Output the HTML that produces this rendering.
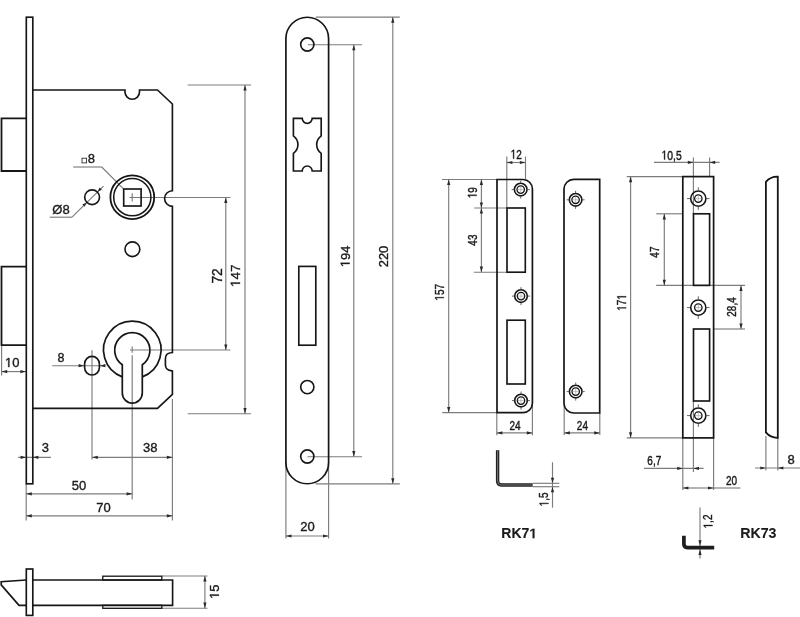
<!DOCTYPE html>
<html><head><meta charset="utf-8"><style>
html,body{margin:0;padding:0;background:#fff;}
svg{display:block;will-change:transform;}
text{font-family:"Liberation Sans",sans-serif;}
</style></head><body>
<svg width="800" height="617" viewBox="0 0 800 617">
<rect width="800" height="617" fill="#fff"/>
<line x1="132.2" y1="193.2" x2="132.2" y2="201.6" stroke="#7c7c7c" stroke-width="1.15"/>
<line x1="129.6" y1="197.5" x2="230.4" y2="197.5" stroke="#7c7c7c" stroke-width="1.15"/>
<line x1="103.5" y1="186.2" x2="72" y2="217.2" stroke="#7c7c7c" stroke-width="1.15"/>
<line x1="72" y1="217.2" x2="49.7" y2="217.2" stroke="#7c7c7c" stroke-width="1.15"/>
<line x1="73.2" y1="167" x2="101.7" y2="167" stroke="#7c7c7c" stroke-width="1.15"/>
<line x1="101.7" y1="167" x2="123.5" y2="188.8" stroke="#7c7c7c" stroke-width="1.15"/>
<line x1="132.2" y1="346.5" x2="132.2" y2="352.8" stroke="#7c7c7c" stroke-width="1.15"/>
<line x1="132.2" y1="355.2" x2="132.2" y2="499.5" stroke="#7c7c7c" stroke-width="1.15"/>
<line x1="130" y1="350" x2="230.4" y2="350" stroke="#7c7c7c" stroke-width="1.15"/>
<line x1="92" y1="350.3" x2="92" y2="459.5" stroke="#7c7c7c" stroke-width="1.15"/>
<line x1="52.2" y1="365.7" x2="105.6" y2="365.7" stroke="#7c7c7c" stroke-width="1.15"/>
<line x1="172.4" y1="399" x2="172.4" y2="520.4" stroke="#7c7c7c" stroke-width="1.15"/>
<line x1="187.7" y1="85" x2="251" y2="85" stroke="#7c7c7c" stroke-width="1.15"/>
<line x1="187.7" y1="413.7" x2="251" y2="413.7" stroke="#7c7c7c" stroke-width="1.15"/>
<line x1="225.8" y1="197.5" x2="225.8" y2="350" stroke="#7c7c7c" stroke-width="1.15"/>
<line x1="245" y1="85" x2="245" y2="413.7" stroke="#7c7c7c" stroke-width="1.15"/>
<line x1="1.6" y1="344.7" x2="1.6" y2="375.5" stroke="#7c7c7c" stroke-width="1.15"/>
<line x1="1.6" y1="371.6" x2="26" y2="371.6" stroke="#7c7c7c" stroke-width="1.15"/>
<line x1="18.2" y1="457.3" x2="50.9" y2="457.3" stroke="#7c7c7c" stroke-width="1.15"/>
<line x1="92.2" y1="457.3" x2="172.4" y2="457.3" stroke="#7c7c7c" stroke-width="1.15"/>
<line x1="26.2" y1="493.8" x2="132.2" y2="493.8" stroke="#7c7c7c" stroke-width="1.15"/>
<line x1="26.2" y1="515.8" x2="172.4" y2="515.8" stroke="#7c7c7c" stroke-width="1.15"/>
<line x1="26.2" y1="484" x2="26.2" y2="520.4" stroke="#7c7c7c" stroke-width="1.15"/>
<line x1="161.8" y1="576" x2="207.4" y2="576" stroke="#7c7c7c" stroke-width="1.15"/>
<line x1="161.8" y1="608.2" x2="207.4" y2="608.2" stroke="#7c7c7c" stroke-width="1.15"/>
<line x1="204.9" y1="576" x2="204.9" y2="608.2" stroke="#7c7c7c" stroke-width="1.15"/>
<line x1="315.8" y1="17.1" x2="399.8" y2="17.1" stroke="#7c7c7c" stroke-width="1.15"/>
<line x1="308" y1="44.7" x2="362.1" y2="44.7" stroke="#7c7c7c" stroke-width="1.15"/>
<line x1="307.5" y1="456.7" x2="362.1" y2="456.7" stroke="#7c7c7c" stroke-width="1.15"/>
<line x1="315.6" y1="483.8" x2="399.8" y2="483.8" stroke="#7c7c7c" stroke-width="1.15"/>
<line x1="353.8" y1="44.7" x2="353.8" y2="456.7" stroke="#7c7c7c" stroke-width="1.15"/>
<line x1="392.8" y1="17.1" x2="392.8" y2="483.8" stroke="#7c7c7c" stroke-width="1.15"/>
<line x1="285.9" y1="462" x2="285.9" y2="538.5" stroke="#7c7c7c" stroke-width="1.15"/>
<line x1="328.6" y1="462" x2="328.6" y2="538.5" stroke="#7c7c7c" stroke-width="1.15"/>
<line x1="285.9" y1="536" x2="328.6" y2="536" stroke="#7c7c7c" stroke-width="1.15"/>
<line x1="506.8" y1="156.5" x2="506.8" y2="208" stroke="#7c7c7c" stroke-width="1.15"/>
<line x1="525.5" y1="156.5" x2="525.5" y2="179.5" stroke="#7c7c7c" stroke-width="1.15"/>
<line x1="506.8" y1="162.5" x2="525.5" y2="162.5" stroke="#7c7c7c" stroke-width="1.15"/>
<line x1="481.4" y1="179.5" x2="481.4" y2="208" stroke="#7c7c7c" stroke-width="1.15"/>
<line x1="481.4" y1="208" x2="481.4" y2="272.2" stroke="#7c7c7c" stroke-width="1.15"/>
<line x1="448.7" y1="179.5" x2="448.7" y2="412.6" stroke="#7c7c7c" stroke-width="1.15"/>
<line x1="442" y1="179.5" x2="497" y2="179.5" stroke="#7c7c7c" stroke-width="1.15"/>
<line x1="474.2" y1="208" x2="507" y2="208" stroke="#7c7c7c" stroke-width="1.15"/>
<line x1="473.8" y1="272.2" x2="507" y2="272.2" stroke="#7c7c7c" stroke-width="1.15"/>
<line x1="442.3" y1="412.6" x2="497" y2="412.6" stroke="#7c7c7c" stroke-width="1.15"/>
<line x1="496.8" y1="412.4" x2="496.8" y2="435.2" stroke="#7c7c7c" stroke-width="1.15"/>
<line x1="532.4" y1="404" x2="532.4" y2="435.2" stroke="#7c7c7c" stroke-width="1.15"/>
<line x1="496.8" y1="432.9" x2="532.4" y2="432.9" stroke="#7c7c7c" stroke-width="1.15"/>
<line x1="532.6" y1="483.3" x2="559.3" y2="483.3" stroke="#7c7c7c" stroke-width="1.15"/>
<line x1="532.6" y1="486.7" x2="559.3" y2="486.7" stroke="#7c7c7c" stroke-width="1.15"/>
<line x1="552.5" y1="462.3" x2="552.5" y2="507.7" stroke="#7c7c7c" stroke-width="1.15"/>
<line x1="564.2" y1="404" x2="564.2" y2="435" stroke="#7c7c7c" stroke-width="1.15"/>
<line x1="599.8" y1="413" x2="599.8" y2="435" stroke="#7c7c7c" stroke-width="1.15"/>
<line x1="564.2" y1="432.9" x2="599.8" y2="432.9" stroke="#7c7c7c" stroke-width="1.15"/>
<line x1="693.4" y1="157.6" x2="693.4" y2="213.8" stroke="#7c7c7c" stroke-width="1.15"/>
<line x1="709.6" y1="157.6" x2="709.6" y2="176.6" stroke="#7c7c7c" stroke-width="1.15"/>
<line x1="654" y1="162.4" x2="719.6" y2="162.4" stroke="#7c7c7c" stroke-width="1.15"/>
<line x1="656.2" y1="213.8" x2="682.8" y2="213.8" stroke="#7c7c7c" stroke-width="1.15"/>
<line x1="656.2" y1="285.4" x2="745" y2="285.4" stroke="#7c7c7c" stroke-width="1.15"/>
<line x1="713.6" y1="329" x2="745" y2="329" stroke="#7c7c7c" stroke-width="1.15"/>
<line x1="664.3" y1="213.8" x2="664.3" y2="285.4" stroke="#7c7c7c" stroke-width="1.15"/>
<line x1="741" y1="285.4" x2="741" y2="329" stroke="#7c7c7c" stroke-width="1.15"/>
<line x1="626.7" y1="176.6" x2="682.8" y2="176.6" stroke="#7c7c7c" stroke-width="1.15"/>
<line x1="626.8" y1="437.9" x2="682.8" y2="437.9" stroke="#7c7c7c" stroke-width="1.15"/>
<line x1="630.6" y1="176.6" x2="630.6" y2="437.9" stroke="#7c7c7c" stroke-width="1.15"/>
<line x1="682.8" y1="437.6" x2="682.8" y2="490" stroke="#7c7c7c" stroke-width="1.15"/>
<line x1="693.4" y1="401" x2="693.4" y2="472" stroke="#7c7c7c" stroke-width="1.15"/>
<line x1="644" y1="468.4" x2="703.6" y2="468.4" stroke="#7c7c7c" stroke-width="1.15"/>
<line x1="713.6" y1="437.6" x2="713.6" y2="490" stroke="#7c7c7c" stroke-width="1.15"/>
<line x1="682.8" y1="488" x2="713.6" y2="488" stroke="#7c7c7c" stroke-width="1.15"/>
<line x1="713.6" y1="488" x2="740.4" y2="488" stroke="#7c7c7c" stroke-width="1.15"/>
<line x1="765.9" y1="436" x2="765.9" y2="470.6" stroke="#7c7c7c" stroke-width="1.15"/>
<line x1="777.8" y1="437.8" x2="777.8" y2="470.6" stroke="#7c7c7c" stroke-width="1.15"/>
<line x1="755" y1="468" x2="800" y2="468" stroke="#7c7c7c" stroke-width="1.15"/>
<line x1="700" y1="507.6" x2="700" y2="558.4" stroke="#7c7c7c" stroke-width="1.15"/>
<rect x="26.3" y="17.2" width="6.5" height="466.6" fill="none" stroke="#161616" stroke-width="1.65"/>
<path d="M32.8 90 L125 90 L125 92 A7.25 7.25 0 0 0 139.5 92 L139.5 90 L157.5 90 L172.4 104 L172.4 190.7 A7.8 7.8 0 0 0 172.4 206.3 L172.4 352.5 L170.8 352.8 Q165.4 353.4 165.4 359 L165.4 364.2 Q165.4 370.2 170.8 370.6 L172.4 371 L172.4 394.3 L157.5 408.3 L32.8 408.3" fill="none" stroke="#161616" stroke-width="1.65"/>
<path d="M26.3 118.4 L1.5 118.4 L1.5 171 L26.3 171" fill="none" stroke="#161616" stroke-width="1.8"/>
<path d="M26.3 266.7 L1.5 266.7 L1.5 345.2 L26.3 345.2" fill="none" stroke="#161616" stroke-width="1.8"/>
<circle cx="132.3" cy="197.2" r="21.9" fill="none" stroke="#161616" stroke-width="1.8"/>
<circle cx="132.3" cy="197.2" r="18.6" fill="none" stroke="#161616" stroke-width="1.55"/>
<rect x="123.7" y="189" width="17.4" height="17" fill="none" stroke="#161616" stroke-width="1.65"/>
<circle cx="92.1" cy="197.2" r="7.4" fill="none" stroke="#161616" stroke-width="1.65"/>
<path d="M97.52 191.87 L99.61 187.58 L101.85 189.86Z" fill="#2a2a2a"/>
<path d="M86.68 202.53 L84.59 206.82 L82.35 204.54Z" fill="#2a2a2a"/>
<g class="t" transform="translate(61 209)" fill="#1a1a1a" stroke="#1a1a1a"><text x="0" y="4.55" font-size="13" text-anchor="middle" stroke-width="0.35">Ø8</text></g>
<rect x="82" y="158.2" width="4.6" height="4.7" fill="none" stroke="#1a1a1a" stroke-width="0.8"/>
<g class="t" transform="translate(91.3 158.8)" fill="#1a1a1a" stroke="#1a1a1a"><text x="0" y="4.55" font-size="13" text-anchor="middle" stroke-width="0.35">8</text></g>
<circle cx="132.4" cy="249.2" r="7.4" fill="none" stroke="#161616" stroke-width="1.65"/>
<path d="M122.3 376.91 A28.8 28.8 0 1 1 142.3 376.91" fill="none" stroke="#161616" stroke-width="1.7"/>
<path d="M122.3 364.78 A17.6 17.6 0 1 1 142.3 364.78 L142.3 393.1 A10 10 0 0 1 122.3 393.1 Z" fill="none" stroke="#161616" stroke-width="1.7"/>
<rect x="84.6" y="356.4" width="14.8" height="18.6" rx="7.4" ry="7.4" fill="none" stroke="#161616" stroke-width="1.65"/>
<path d="M84.2 365.7 L78.6 367.3 L78.6 364.1Z" fill="#2a2a2a"/>
<path d="M99.8 365.7 L105.4 364.1 L105.4 367.3Z" fill="#2a2a2a"/>
<g class="t" transform="translate(61 357.3)" fill="#1a1a1a" stroke="#1a1a1a"><text x="0" y="4.38" font-size="12.5" text-anchor="middle" stroke-width="0.35">8</text></g>
<path d="M225.8 197.5 L227.4 203.1 L224.2 203.1Z" fill="#2a2a2a"/>
<path d="M225.8 350 L224.2 344.4 L227.4 344.4Z" fill="#2a2a2a"/>
<path d="M245 85 L246.6 90.6 L243.4 90.6Z" fill="#2a2a2a"/>
<path d="M245 413.7 L243.4 408.1 L246.6 408.1Z" fill="#2a2a2a"/>
<g class="t" transform="translate(216.9 275.9) rotate(-90)" fill="#1a1a1a" stroke="#1a1a1a"><text x="0" y="4.83" font-size="13.8" text-anchor="middle" stroke-width="0.35">72</text></g>
<g class="t" transform="translate(235.3 275.8) rotate(-90)" fill="#1a1a1a" stroke="#1a1a1a"><text x="0" y="4.72" font-size="13.5" text-anchor="middle" stroke-width="0.35"> 47</text><path transform="translate(-11.26 4.72) scale(0.00659 -0.00659)" d="M515 0V1237L197 1010V1180L530 1409H696V0Z" stroke-width="53.1"/></g>
<path d="M1.6 371.6 L7.2 370 L7.2 373.2Z" fill="#2a2a2a"/>
<path d="M26 371.6 L20.4 373.2 L20.4 370Z" fill="#2a2a2a"/>
<g class="t" transform="translate(12.2 362.5)" fill="#1a1a1a" stroke="#1a1a1a"><text x="0" y="4.55" font-size="13" text-anchor="middle" stroke-width="0.35"> 0</text><path transform="translate(-7.23 4.55) scale(0.00635 -0.00635)" d="M515 0V1237L197 1010V1180L530 1409H696V0Z" stroke-width="55.1"/></g>
<path d="M26.2 457.3 L20.6 458.9 L20.6 455.7Z" fill="#2a2a2a"/>
<path d="M32.8 457.3 L38.4 455.7 L38.4 458.9Z" fill="#2a2a2a"/>
<g class="t" transform="translate(45.3 447.6)" fill="#1a1a1a" stroke="#1a1a1a"><text x="0" y="4.55" font-size="13" text-anchor="middle" stroke-width="0.35">3</text></g>
<path d="M92.2 457.3 L97.8 455.7 L97.8 458.9Z" fill="#2a2a2a"/>
<path d="M172.4 457.3 L166.8 458.9 L166.8 455.7Z" fill="#2a2a2a"/>
<g class="t" transform="translate(150.3 447.6)" fill="#1a1a1a" stroke="#1a1a1a"><text x="0" y="4.55" font-size="13" text-anchor="middle" stroke-width="0.35">38</text></g>
<path d="M26.2 493.8 L31.8 492.2 L31.8 495.4Z" fill="#2a2a2a"/>
<path d="M132.2 493.8 L126.6 495.4 L126.6 492.2Z" fill="#2a2a2a"/>
<g class="t" transform="translate(79 485.5)" fill="#1a1a1a" stroke="#1a1a1a"><text x="0" y="4.55" font-size="13" text-anchor="middle" stroke-width="0.35">50</text></g>
<path d="M26.2 515.8 L31.8 514.2 L31.8 517.4Z" fill="#2a2a2a"/>
<path d="M172.4 515.8 L166.8 517.4 L166.8 514.2Z" fill="#2a2a2a"/>
<g class="t" transform="translate(103.6 507.8)" fill="#1a1a1a" stroke="#1a1a1a"><text x="0" y="4.55" font-size="13" text-anchor="middle" stroke-width="0.35">70</text></g>
<rect x="26.3" y="569" width="6.5" height="46.4" fill="none" stroke="#161616" stroke-width="1.65"/>
<path d="M32.8 580 L172.6 580 L172.6 605.3 L32.8 605.3" fill="none" stroke="#161616" stroke-width="1.65"/>
<path d="M26.3 580 L1.2 581.8 L1.2 584.9 L19 605.3 L26.3 605.3" fill="none" stroke="#161616" stroke-width="1.65"/>
<rect x="102.8" y="576.2" width="59" height="3.8" fill="none" stroke="#161616" stroke-width="1.3"/>
<rect x="102.8" y="605.3" width="59" height="3" fill="none" stroke="#161616" stroke-width="1.3"/>
<path d="M204.9 576 L206.5 581.6 L203.3 581.6Z" fill="#2a2a2a"/>
<path d="M204.9 608.2 L203.3 602.6 L206.5 602.6Z" fill="#2a2a2a"/>
<g class="t" transform="translate(214.3 591.7) rotate(-90)" fill="#1a1a1a" stroke="#1a1a1a"><text x="0" y="4.55" font-size="13" text-anchor="middle" stroke-width="0.35"> 5</text><path transform="translate(-7.23 4.55) scale(0.00635 -0.00635)" d="M515 0V1237L197 1010V1180L530 1409H696V0Z" stroke-width="55.1"/></g>
<path d="M285.9 38.6 A21.35 21.35 0 0 1 328.6 38.6 L328.6 462.4 A21.35 21.35 0 0 1 285.9 462.4 Z" fill="none" stroke="#161616" stroke-width="1.7"/>
<circle cx="307.3" cy="44.5" r="6.6" fill="none" stroke="#161616" stroke-width="1.65"/>
<circle cx="307.3" cy="387.1" r="6.6" fill="none" stroke="#161616" stroke-width="1.65"/>
<circle cx="307.3" cy="456.5" r="6.6" fill="none" stroke="#161616" stroke-width="1.65"/>
<path d="M293.4 118.3 L302.2 118.3 A5 5 0 0 0 312.2 118.3 L321.2 118.3 L321.2 135.8 A10.8 10.8 0 0 0 321.2 153.4 L321.2 171 L312.2 171 A5 5 0 0 0 302.2 171 L293.4 171 L293.4 153.4 A10.8 10.8 0 0 0 293.4 135.8 Z" fill="none" stroke="#161616" stroke-width="1.65"/>
<rect x="298.8" y="266.4" width="17" height="78.8" fill="none" stroke="#161616" stroke-width="1.65"/>
<path d="M353.8 44.7 L355.4 50.3 L352.2 50.3Z" fill="#2a2a2a"/>
<path d="M353.8 456.7 L352.2 451.1 L355.4 451.1Z" fill="#2a2a2a"/>
<path d="M392.8 17.1 L394.4 22.7 L391.2 22.7Z" fill="#2a2a2a"/>
<path d="M392.8 483.8 L391.2 478.2 L394.4 478.2Z" fill="#2a2a2a"/>
<g class="t" transform="translate(345.1 256.4) rotate(-90)" fill="#1a1a1a" stroke="#1a1a1a"><text x="0" y="4.55" font-size="13" text-anchor="middle" stroke-width="0.35"> 94</text><path transform="translate(-10.84 4.55) scale(0.00635 -0.00635)" d="M515 0V1237L197 1010V1180L530 1409H696V0Z" stroke-width="55.1"/></g>
<g class="t" transform="translate(383 256.5) rotate(-90)" fill="#1a1a1a" stroke="#1a1a1a"><text x="0" y="4.55" font-size="13" text-anchor="middle" stroke-width="0.35">220</text></g>
<path d="M285.9 536 L291.5 534.4 L291.5 537.6Z" fill="#2a2a2a"/>
<path d="M328.6 536 L323 537.6 L323 534.4Z" fill="#2a2a2a"/>
<g class="t" transform="translate(307.5 526.2)" fill="#1a1a1a" stroke="#1a1a1a"><text x="0" y="4.55" font-size="13" text-anchor="middle" stroke-width="0.35">20</text></g>
<path d="M497 179.5 L523 179.5 A9.4 9.4 0 0 1 532.4 188.9 L532.4 403.2 A9.4 9.4 0 0 1 523 412.6 L497 412.6 Z" fill="none" stroke="#161616" stroke-width="1.7"/>
<circle cx="520.7" cy="189.6" r="6.3" fill="none" stroke="#161616" stroke-width="1.6"/>
<circle cx="520.7" cy="189.6" r="3.7" fill="none" stroke="#161616" stroke-width="1.35"/>
<line x1="513.9" y1="189.6" x2="511.7" y2="189.6" stroke="#555" stroke-width="0.9"/>
<line x1="520.7" y1="182.8" x2="520.7" y2="180.6" stroke="#555" stroke-width="0.9"/>
<line x1="527.5" y1="189.6" x2="529.7" y2="189.6" stroke="#555" stroke-width="0.9"/>
<line x1="520.7" y1="196.4" x2="520.7" y2="198.6" stroke="#555" stroke-width="0.9"/>
<line x1="517.6" y1="189.6" x2="523.8" y2="189.6" stroke="#aaa" stroke-width="0.7"/>
<line x1="520.7" y1="186.5" x2="520.7" y2="192.7" stroke="#aaa" stroke-width="0.7"/>
<circle cx="521" cy="296.1" r="6.3" fill="none" stroke="#161616" stroke-width="1.6"/>
<circle cx="521" cy="296.1" r="3.7" fill="none" stroke="#161616" stroke-width="1.35"/>
<line x1="514.2" y1="296.1" x2="512" y2="296.1" stroke="#555" stroke-width="0.9"/>
<line x1="521" y1="289.3" x2="521" y2="287.1" stroke="#555" stroke-width="0.9"/>
<line x1="527.8" y1="296.1" x2="530" y2="296.1" stroke="#555" stroke-width="0.9"/>
<line x1="521" y1="302.9" x2="521" y2="305.1" stroke="#555" stroke-width="0.9"/>
<line x1="517.9" y1="296.1" x2="524.1" y2="296.1" stroke="#aaa" stroke-width="0.7"/>
<line x1="521" y1="293" x2="521" y2="299.2" stroke="#aaa" stroke-width="0.7"/>
<circle cx="521" cy="400.6" r="6.3" fill="none" stroke="#161616" stroke-width="1.6"/>
<circle cx="521" cy="400.6" r="3.7" fill="none" stroke="#161616" stroke-width="1.35"/>
<line x1="514.2" y1="400.6" x2="512" y2="400.6" stroke="#555" stroke-width="0.9"/>
<line x1="521" y1="393.8" x2="521" y2="391.6" stroke="#555" stroke-width="0.9"/>
<line x1="527.8" y1="400.6" x2="530" y2="400.6" stroke="#555" stroke-width="0.9"/>
<line x1="521" y1="407.4" x2="521" y2="409.6" stroke="#555" stroke-width="0.9"/>
<line x1="517.9" y1="400.6" x2="524.1" y2="400.6" stroke="#aaa" stroke-width="0.7"/>
<line x1="521" y1="397.5" x2="521" y2="403.7" stroke="#aaa" stroke-width="0.7"/>
<rect x="507" y="208" width="18.3" height="64.2" fill="none" stroke="#161616" stroke-width="1.65"/>
<rect x="507" y="320.2" width="18.3" height="63.8" fill="none" stroke="#161616" stroke-width="1.65"/>
<path d="M506.8 162.5 L512.4 160.9 L512.4 164.1Z" fill="#2a2a2a"/>
<path d="M525.5 162.5 L519.9 164.1 L519.9 160.9Z" fill="#2a2a2a"/>
<g class="t" transform="translate(516.2 154.2) scale(0.78 1)" fill="#1a1a1a" stroke="#1a1a1a"><text x="0" y="4.48" font-size="12.8" text-anchor="middle" stroke-width="0.42"> 2</text><path transform="translate(-7.12 4.48) scale(0.00625 -0.00625)" d="M515 0V1237L197 1010V1180L530 1409H696V0Z" stroke-width="67.2"/></g>
<path d="M481.4 179.5 L483 185.1 L479.8 185.1Z" fill="#2a2a2a"/>
<path d="M481.4 208 L479.8 202.4 L483 202.4Z" fill="#2a2a2a"/>
<path d="M481.4 208 L483 213.6 L479.8 213.6Z" fill="#2a2a2a"/>
<path d="M481.4 272.2 L479.8 266.6 L483 266.6Z" fill="#2a2a2a"/>
<g class="t" transform="translate(472.2 192.7) rotate(-90) scale(0.78 1)" fill="#1a1a1a" stroke="#1a1a1a"><text x="0" y="4.48" font-size="12.8" text-anchor="middle" stroke-width="0.42"> 9</text><path transform="translate(-7.12 4.48) scale(0.00625 -0.00625)" d="M515 0V1237L197 1010V1180L530 1409H696V0Z" stroke-width="67.2"/></g>
<g class="t" transform="translate(472.3 240.1) rotate(-90) scale(0.78 1)" fill="#1a1a1a" stroke="#1a1a1a"><text x="0" y="4.48" font-size="12.8" text-anchor="middle" stroke-width="0.42">43</text></g>
<path d="M448.7 179.5 L450.3 185.1 L447.1 185.1Z" fill="#2a2a2a"/>
<path d="M448.7 412.6 L447.1 407 L450.3 407Z" fill="#2a2a2a"/>
<g class="t" transform="translate(439.3 292.3) rotate(-90) scale(0.78 1)" fill="#1a1a1a" stroke="#1a1a1a"><text x="0" y="4.48" font-size="12.8" text-anchor="middle" stroke-width="0.42"> 57</text><path transform="translate(-10.68 4.48) scale(0.00625 -0.00625)" d="M515 0V1237L197 1010V1180L530 1409H696V0Z" stroke-width="67.2"/></g>
<path d="M496.8 432.9 L502.4 431.3 L502.4 434.5Z" fill="#2a2a2a"/>
<path d="M532.4 432.9 L526.8 434.5 L526.8 431.3Z" fill="#2a2a2a"/>
<g class="t" transform="translate(515.1 425.1) scale(0.78 1)" fill="#1a1a1a" stroke="#1a1a1a"><text x="0" y="4.48" font-size="12.8" text-anchor="middle" stroke-width="0.42">24</text></g>
<path d="M497.6 450.3 L497.6 481 Q497.6 485 501.6 485 L532.6 485" fill="none" stroke="#222" stroke-width="3.4" stroke-linecap="butt"/>
<path d="M497.6 451 L497.6 481 Q497.6 485 501.6 485 L532 485" fill="none" stroke="#9a9a9a" stroke-width="0.7"/>
<path d="M552.5 483.3 L550.9 477.7 L554.1 477.7Z" fill="#2a2a2a"/>
<path d="M552.5 486.7 L554.1 492.3 L550.9 492.3Z" fill="#2a2a2a"/>
<g class="t" transform="translate(543.9 499.4) rotate(-90) scale(0.78 1)" fill="#1a1a1a" stroke="#1a1a1a"><text x="0" y="4.48" font-size="12.8" text-anchor="middle" stroke-width="0.42"> ,5</text><path transform="translate(-8.9 4.48) scale(0.00625 -0.00625)" d="M515 0V1237L197 1010V1180L530 1409H696V0Z" stroke-width="67.2"/></g>
<g class="t" transform="translate(519.2 533.5)" fill="#1a1a1a" stroke="#1a1a1a"><text x="0" y="4.83" font-size="14" text-anchor="middle" font-weight="bold" stroke-width="0.1">RK7 </text><path transform="translate(10.11 4.83) scale(0.00684 -0.00684)" d="M478 0V1170L140 959V1180L493 1409H759V0Z" stroke-width="14.6"/></g>
<path d="M573.7 179.4 L599.7 179.4 L599.7 413 L573.7 413 A9.7 9.7 0 0 1 564.0 403.3 L564.0 189.1 A9.7 9.7 0 0 1 573.7 179.4 Z" fill="none" stroke="#161616" stroke-width="1.7"/>
<circle cx="575.6" cy="199.8" r="6.3" fill="none" stroke="#161616" stroke-width="1.6"/>
<circle cx="575.6" cy="199.8" r="3.7" fill="none" stroke="#161616" stroke-width="1.35"/>
<line x1="568.8" y1="199.8" x2="566.6" y2="199.8" stroke="#555" stroke-width="0.9"/>
<line x1="575.6" y1="193" x2="575.6" y2="190.8" stroke="#555" stroke-width="0.9"/>
<line x1="582.4" y1="199.8" x2="584.6" y2="199.8" stroke="#555" stroke-width="0.9"/>
<line x1="575.6" y1="206.6" x2="575.6" y2="208.8" stroke="#555" stroke-width="0.9"/>
<line x1="572.5" y1="199.8" x2="578.7" y2="199.8" stroke="#aaa" stroke-width="0.7"/>
<line x1="575.6" y1="196.7" x2="575.6" y2="202.9" stroke="#aaa" stroke-width="0.7"/>
<circle cx="575.7" cy="391.6" r="6.3" fill="none" stroke="#161616" stroke-width="1.6"/>
<circle cx="575.7" cy="391.6" r="3.7" fill="none" stroke="#161616" stroke-width="1.35"/>
<line x1="568.9" y1="391.6" x2="566.7" y2="391.6" stroke="#555" stroke-width="0.9"/>
<line x1="575.7" y1="384.8" x2="575.7" y2="382.6" stroke="#555" stroke-width="0.9"/>
<line x1="582.5" y1="391.6" x2="584.7" y2="391.6" stroke="#555" stroke-width="0.9"/>
<line x1="575.7" y1="398.4" x2="575.7" y2="400.6" stroke="#555" stroke-width="0.9"/>
<line x1="572.6" y1="391.6" x2="578.8" y2="391.6" stroke="#aaa" stroke-width="0.7"/>
<line x1="575.7" y1="388.5" x2="575.7" y2="394.7" stroke="#aaa" stroke-width="0.7"/>
<path d="M564.2 432.9 L569.8 431.3 L569.8 434.5Z" fill="#2a2a2a"/>
<path d="M599.8 432.9 L594.2 434.5 L594.2 431.3Z" fill="#2a2a2a"/>
<g class="t" transform="translate(582.4 425.1) scale(0.78 1)" fill="#1a1a1a" stroke="#1a1a1a"><text x="0" y="4.48" font-size="12.8" text-anchor="middle" stroke-width="0.42">24</text></g>
<rect x="682.8" y="176.6" width="30.8" height="261.3" fill="none" stroke="#161616" stroke-width="1.7"/>
<circle cx="698.3" cy="198.6" r="7.6" fill="none" stroke="#161616" stroke-width="1.6"/>
<circle cx="698.3" cy="198.6" r="3.7" fill="none" stroke="#161616" stroke-width="1.35"/>
<line x1="690.2" y1="198.6" x2="687" y2="198.6" stroke="#555" stroke-width="0.9"/>
<line x1="698.3" y1="190.5" x2="698.3" y2="187.3" stroke="#555" stroke-width="0.9"/>
<line x1="706.4" y1="198.6" x2="709.6" y2="198.6" stroke="#555" stroke-width="0.9"/>
<line x1="698.3" y1="206.7" x2="698.3" y2="209.9" stroke="#555" stroke-width="0.9"/>
<line x1="695.2" y1="198.6" x2="701.4" y2="198.6" stroke="#aaa" stroke-width="0.7"/>
<line x1="698.3" y1="195.5" x2="698.3" y2="201.7" stroke="#aaa" stroke-width="0.7"/>
<circle cx="698.3" cy="307.6" r="7.6" fill="none" stroke="#161616" stroke-width="1.6"/>
<circle cx="698.3" cy="307.6" r="3.7" fill="none" stroke="#161616" stroke-width="1.35"/>
<line x1="690.2" y1="307.6" x2="687" y2="307.6" stroke="#555" stroke-width="0.9"/>
<line x1="698.3" y1="299.5" x2="698.3" y2="296.3" stroke="#555" stroke-width="0.9"/>
<line x1="706.4" y1="307.6" x2="709.6" y2="307.6" stroke="#555" stroke-width="0.9"/>
<line x1="698.3" y1="315.7" x2="698.3" y2="318.9" stroke="#555" stroke-width="0.9"/>
<line x1="695.2" y1="307.6" x2="701.4" y2="307.6" stroke="#aaa" stroke-width="0.7"/>
<line x1="698.3" y1="304.5" x2="698.3" y2="310.7" stroke="#aaa" stroke-width="0.7"/>
<circle cx="698.3" cy="415.6" r="7.6" fill="none" stroke="#161616" stroke-width="1.6"/>
<circle cx="698.3" cy="415.6" r="3.7" fill="none" stroke="#161616" stroke-width="1.35"/>
<line x1="690.2" y1="415.6" x2="687" y2="415.6" stroke="#555" stroke-width="0.9"/>
<line x1="698.3" y1="407.5" x2="698.3" y2="404.3" stroke="#555" stroke-width="0.9"/>
<line x1="706.4" y1="415.6" x2="709.6" y2="415.6" stroke="#555" stroke-width="0.9"/>
<line x1="698.3" y1="423.7" x2="698.3" y2="426.9" stroke="#555" stroke-width="0.9"/>
<line x1="695.2" y1="415.6" x2="701.4" y2="415.6" stroke="#aaa" stroke-width="0.7"/>
<line x1="698.3" y1="412.5" x2="698.3" y2="418.7" stroke="#aaa" stroke-width="0.7"/>
<rect x="693.5" y="213.8" width="16.1" height="71.6" fill="none" stroke="#161616" stroke-width="1.65"/>
<rect x="693.5" y="329" width="16.1" height="72" fill="none" stroke="#161616" stroke-width="1.65"/>
<path d="M693.4 162.4 L687.8 164 L687.8 160.8Z" fill="#2a2a2a"/>
<path d="M709.6 162.4 L715.2 160.8 L715.2 164Z" fill="#2a2a2a"/>
<g class="t" transform="translate(671.6 155.1) scale(0.81 1)" fill="#1a1a1a" stroke="#1a1a1a"><text x="0" y="4.48" font-size="12.8" text-anchor="middle" stroke-width="0.42"> 0,5</text><path transform="translate(-12.46 4.48) scale(0.00625 -0.00625)" d="M515 0V1237L197 1010V1180L530 1409H696V0Z" stroke-width="67.2"/></g>
<path d="M664.3 213.8 L665.9 219.4 L662.7 219.4Z" fill="#2a2a2a"/>
<path d="M664.3 285.4 L662.7 279.8 L665.9 279.8Z" fill="#2a2a2a"/>
<g class="t" transform="translate(654.2 252.1) rotate(-90) scale(0.78 1)" fill="#1a1a1a" stroke="#1a1a1a"><text x="0" y="4.48" font-size="12.8" text-anchor="middle" stroke-width="0.42">47</text></g>
<path d="M741 285.4 L742.6 291 L739.4 291Z" fill="#2a2a2a"/>
<path d="M741 329 L739.4 323.4 L742.6 323.4Z" fill="#2a2a2a"/>
<g class="t" transform="translate(731.7 307) rotate(-90) scale(0.78 1)" fill="#1a1a1a" stroke="#1a1a1a"><text x="0" y="4.48" font-size="12.8" text-anchor="middle" stroke-width="0.42">28,4</text></g>
<path d="M630.6 176.6 L632.2 182.2 L629 182.2Z" fill="#2a2a2a"/>
<path d="M630.6 437.9 L629 432.3 L632.2 432.3Z" fill="#2a2a2a"/>
<g class="t" transform="translate(621.6 302.5) rotate(-90) scale(0.78 1)" fill="#1a1a1a" stroke="#1a1a1a"><text x="0" y="4.48" font-size="12.8" text-anchor="middle" stroke-width="0.42"> 7 </text><path transform="translate(-10.68 4.48) scale(0.00625 -0.00625)" d="M515 0V1237L197 1010V1180L530 1409H696V0Z" stroke-width="67.2"/><path transform="translate(3.56 4.48) scale(0.00625 -0.00625)" d="M515 0V1237L197 1010V1180L530 1409H696V0Z" stroke-width="67.2"/></g>
<path d="M682.8 468.4 L677.2 470 L677.2 466.8Z" fill="#2a2a2a"/>
<path d="M693.4 468.4 L699 466.8 L699 470Z" fill="#2a2a2a"/>
<g class="t" transform="translate(654.3 460.1) scale(0.78 1)" fill="#1a1a1a" stroke="#1a1a1a"><text x="0" y="4.48" font-size="12.8" text-anchor="middle" stroke-width="0.42">6,7</text></g>
<path d="M682.8 488 L688.4 486.4 L688.4 489.6Z" fill="#2a2a2a"/>
<path d="M713.6 488 L708 489.6 L708 486.4Z" fill="#2a2a2a"/>
<g class="t" transform="translate(731.5 480.3) scale(0.78 1)" fill="#1a1a1a" stroke="#1a1a1a"><text x="0" y="4.48" font-size="12.8" text-anchor="middle" stroke-width="0.42">20</text></g>
<path d="M765.9 432.4 A15 15 0 0 0 777.8 437.8 L777.8 176.6 A15 15 0 0 0 765.9 181.8 Z" fill="none" stroke="#161616" stroke-width="1.8"/>
<path d="M765.9 468 L760.3 469.6 L760.3 466.4Z" fill="#2a2a2a"/>
<path d="M777.8 468 L783.4 466.4 L783.4 469.6Z" fill="#2a2a2a"/>
<g class="t" transform="translate(791 459.2)" fill="#1a1a1a" stroke="#1a1a1a"><text x="0" y="4.55" font-size="13" text-anchor="middle" stroke-width="0.35">8</text></g>
<path d="M683.9 535.8 L683.9 544 Q683.9 547.6 687.5 547.6 L714.2 547.6" fill="none" stroke="#1e1e1e" stroke-width="3.7"/>
<path d="M700 545.8 L698.4 540.2 L701.6 540.2Z" fill="#2a2a2a"/>
<path d="M700 549.5 L701.6 555.1 L698.4 555.1Z" fill="#2a2a2a"/>
<g class="t" transform="translate(708 521.5) rotate(-90) scale(0.78 1)" fill="#1a1a1a" stroke="#1a1a1a"><text x="0" y="4.48" font-size="12.8" text-anchor="middle" stroke-width="0.42"> ,2</text><path transform="translate(-8.9 4.48) scale(0.00625 -0.00625)" d="M515 0V1237L197 1010V1180L530 1409H696V0Z" stroke-width="67.2"/></g>
<g class="t" transform="translate(758.3 533.5)" fill="#1a1a1a" stroke="#1a1a1a"><text x="0" y="4.9" font-size="14.2" text-anchor="middle" font-weight="bold" stroke-width="0.1">RK73</text></g>
</svg></body></html>
